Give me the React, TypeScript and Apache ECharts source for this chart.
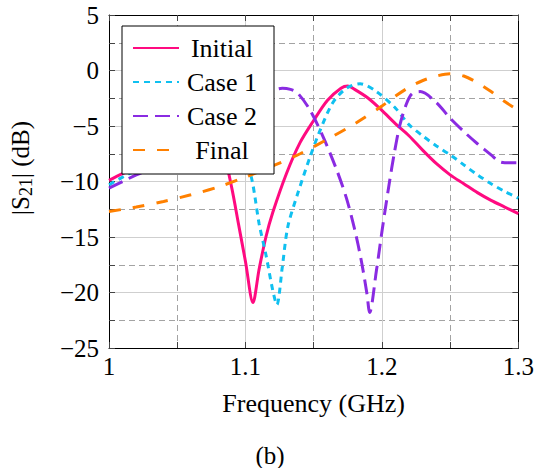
import React, { useEffect, useRef } from "react";
import * as echarts from "echarts";

// ---- data ----
const freqInitial = [1.0, 1.01, 1.02, 1.03, 1.04, 1.05, 1.06, 1.07, 1.075, 1.08, 1.085, 1.09, 1.095, 1.1, 1.1055, 1.11, 1.115, 1.12, 1.13, 1.14, 1.15, 1.16, 1.17, 1.175, 1.18, 1.19, 1.2, 1.21, 1.22, 1.23, 1.24, 1.25, 1.26, 1.27, 1.28, 1.29, 1.3];
const s21Initial = [-9.9, -9.3, -8.8, -8.2, -7.7, -7.2, -6.8, -6.6, -6.6, -7.0, -8.0, -10.6, -13.9, -17.2, -20.9, -17.9, -15.0, -12.8, -9.3, -6.5, -4.5, -2.7, -1.6, -1.4, -1.7, -2.5, -3.6, -4.8, -5.9, -7.2, -8.4, -9.4, -10.2, -11.0, -11.7, -12.3, -12.9];

const freqCase1 = [1.0, 1.01, 1.02, 1.03, 1.04, 1.05, 1.06, 1.07, 1.08, 1.09, 1.095, 1.1, 1.105, 1.11, 1.115, 1.12, 1.123, 1.127, 1.131, 1.138, 1.147, 1.154, 1.164, 1.174, 1.184, 1.196, 1.21, 1.22, 1.23, 1.24, 1.25, 1.26, 1.27, 1.28, 1.29, 1.3];
const s21Case1 = [-10.3, -9.6, -9.0, -8.5, -8.1, -7.7, -7.4, -7.1, -7.0, -7.1, -7.4, -7.9, -10.0, -13.8, -16.6, -19.8, -21.1, -17.7, -14.1, -11.2, -7.9, -5.6, -2.9, -1.6, -1.2, -1.9, -3.4, -4.9, -5.9, -6.8, -7.6, -8.5, -9.4, -10.2, -10.9, -11.5];

const freqCase2 = [1.0, 1.01, 1.02, 1.03, 1.04, 1.05, 1.06, 1.07, 1.08, 1.09, 1.1, 1.11, 1.12, 1.127, 1.133, 1.138, 1.147, 1.157, 1.167, 1.174, 1.18, 1.185, 1.189, 1.191, 1.196, 1.2005, 1.2056, 1.209, 1.213, 1.218, 1.222, 1.228, 1.24, 1.25, 1.26, 1.27, 1.28, 1.286, 1.29, 1.3];
const s21Case2 = [-10.6, -10.0, -9.4, -8.9, -8.4, -7.8, -7.0, -6.1, -5.1, -4.1, -3.2, -2.4, -1.8, -1.6, -1.7, -2.0, -3.5, -6.0, -9.0, -11.5, -14.3, -17.2, -20.1, -21.8, -18.0, -14.1, -10.0, -7.5, -5.0, -3.0, -2.1, -1.9, -2.9, -4.3, -5.5, -6.6, -7.6, -8.2, -8.3, -8.3];

const freqFinal = [1.0, 1.02, 1.04, 1.06, 1.08, 1.1, 1.12, 1.14, 1.16, 1.18, 1.2, 1.21, 1.22, 1.23, 1.24, 1.25, 1.26, 1.27, 1.28, 1.29, 1.3];
const s21Final = [-12.7, -12.3, -11.8, -11.2, -10.5, -9.6, -8.6, -7.5, -6.2, -4.8, -3.2, -2.3, -1.5, -0.9, -0.5, -0.3, -0.5, -1.1, -1.9, -2.8, -3.6];

const seriesNames = ["Initial", "Case 1", "Case 2", "Final"];

const SERIF = "serif";

function pairs(xs: number[], ys: number[]) {
  return xs.map((x, i) => [x, ys[i]]);
}

export default function App() {
  const ref = useRef<HTMLDivElement>(null);
  useEffect(() => {
    if (!ref.current) return;
    const chart = echarts.init(ref.current, undefined, { renderer: "svg" });
    const gridLeft = 109;
    const gridTop = 15;
    const gridRight = 18;
    const gridBottom = 120;
    const tickFont = { fontFamily: SERIF, fontSize: 25, color: "#000" };
    const minus = (v: number) => String(v).replace("-", "\u2212");
    const commonX = {
      type: "value",
      min: 1,
      max: 1.3,
      interval: 0.1,
      axisLine: { show: true, onZero: false, lineStyle: { color: "#000", width: 1 } },
      axisTick: { show: true, inside: true, length: 6, lineStyle: { color: "#444" } },
      minorTick: { show: true, splitNumber: 2, length: 6, lineStyle: { color: "#444" } },
    };
    const commonY = {
      type: "value",
      min: -25,
      max: 5,
      interval: 5,
      axisLine: { show: true, onZero: false, lineStyle: { color: "#000", width: 1 } },
      axisTick: { show: true, inside: true, length: 6, lineStyle: { color: "#444" } },
      minorTick: { show: true, splitNumber: 2, length: 6, lineStyle: { color: "#444" } },
    };
    const lineW = 3;
    chart.setOption({
      animation: false,
      backgroundColor: "#fff",
      textStyle: { fontFamily: SERIF },
      grid: { left: gridLeft, right: gridRight, top: gridTop, bottom: gridBottom, containLabel: false },
      xAxis: [
        {
          ...commonX,
          position: "bottom",
          axisLabel: { ...tickFont, margin: 6 },
          splitLine: { show: true, lineStyle: { color: "#cfcfcf", width: 1 } },
          minorSplitLine: { show: true, lineStyle: { color: "#a3a3a3", width: 1, type: [6, 4] } },
          name: "Frequency (GHz)",
          nameLocation: "middle",
          nameGap: 42,
          nameTextStyle: { fontFamily: SERIF, fontSize: 26, color: "#000" },
        },
        {
          ...commonX,
          position: "top",
          axisLabel: { show: false },
          splitLine: { show: false },
        },
      ],
      yAxis: [
        {
          ...commonY,
          position: "left",
          axisLabel: { ...tickFont, margin: 10, formatter: minus },
          splitLine: { show: true, lineStyle: { color: "#cfcfcf", width: 1 } },
          minorSplitLine: { show: true, lineStyle: { color: "#a3a3a3", width: 1, type: [6, 4] } },
        },
        {
          ...commonY,
          position: "right",
          axisLabel: { show: false },
          splitLine: { show: false },
        },
      ],
      legend: {
        left: 122,
        top: 26,
        z: 20,
        orient: "vertical",
        data: seriesNames,
        backgroundColor: "#fff",
        borderColor: "#000",
        borderWidth: 1,
        borderRadius: 0,
        padding: [9, 14, 11, 10],
        itemGap: 8,
        itemWidth: 46,
        itemHeight: 14,
        itemStyle: { opacity: 0, borderWidth: 0 },
        formatter: "{c|{name}}",
        textStyle: {
          color: "#000",
          fontFamily: SERIF,
          fontSize: 26,
          rich: {
            c: { width: 76, align: "center", fontFamily: SERIF, fontSize: 26, lineHeight: 24, color: "#000" },
          },
        },
      },
      series: [
        {
          name: "Initial",
          type: "line",
          data: pairs(freqInitial, s21Initial),
          smooth: 0.3,
          symbol: "none",
          lineStyle: { color: "#ff0a80", width: lineW, type: "solid" },
          itemStyle: { color: "#ff0a80" },
        },
        {
          name: "Case 1",
          type: "line",
          data: pairs(freqCase1, s21Case1),
          smooth: 0.3,
          symbol: "none",
          lineStyle: { color: "#10c0f0", width: lineW, type: [6, 5] },
          itemStyle: { color: "#10c0f0" },
        },
        {
          name: "Case 2",
          type: "line",
          data: pairs(freqCase2, s21Case2),
          smooth: 0.3,
          symbol: "none",
          lineStyle: { color: "#8a2be2", width: lineW, type: [15, 7] },
          itemStyle: { color: "#8a2be2" },
        },
        {
          name: "Final",
          type: "line",
          data: pairs(freqFinal, s21Final),
          smooth: 0.3,
          symbol: "none",
          lineStyle: { color: "#ff8000", width: lineW, type: [12, 12] },
          itemStyle: { color: "#ff8000" },
        },
      ],
      graphic: [
        {
          type: "text",
          x: 20,
          y: 168,
          rotation: Math.PI / 2,
          style: {
            text: "{n||S}{s|21}{n|| (dB)}",
            align: "center",
            verticalAlign: "middle",
            rich: {
              n: { fontFamily: SERIF, fontSize: 25, lineHeight: 30, color: "#000" },
              s: { fontFamily: SERIF, fontSize: 18, lineHeight: 18, padding: [12, 0, 0, 0], color: "#000" },
            },
            fill: "#000",
          },
        },
        {
          type: "text",
          x: 270,
          y: 455,
          style: {
            text: "(b)",
            font: `25px ${SERIF}`,
            align: "center",
            verticalAlign: "middle",
            fill: "#000",
          },
        },
      ],
    });
    return () => chart.dispose();
  }, []);
  return <div ref={ref} style={{ width: 537, height: 468, position: "absolute", left: 0, top: 0 }} />;
}
